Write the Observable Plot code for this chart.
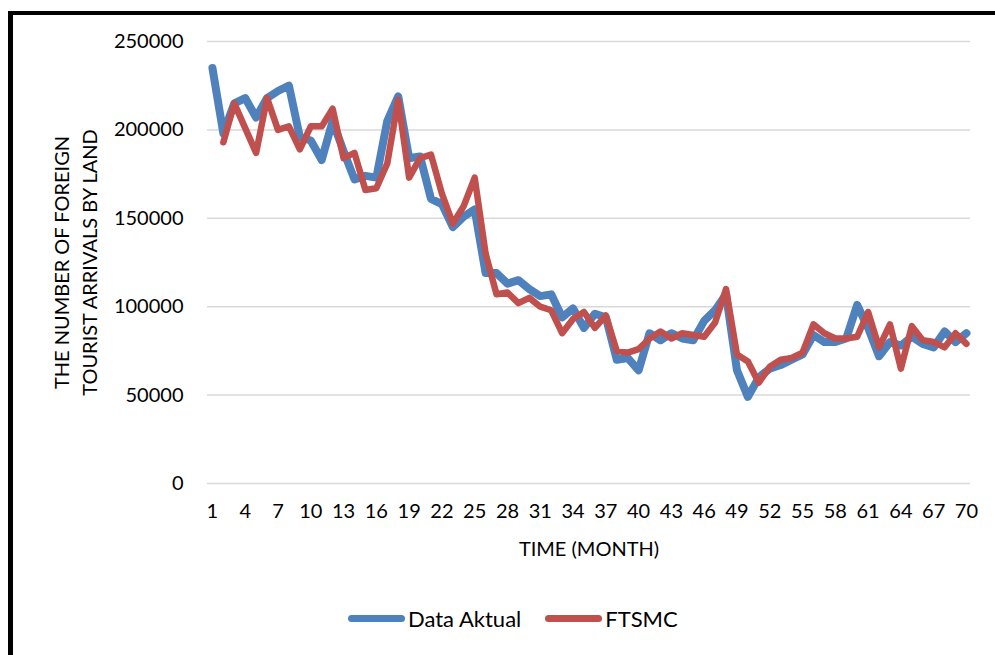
<!DOCTYPE html>
<html>
<head>
<meta charset="utf-8">
<script src="https://cdn.jsdelivr.net/npm/d3@7"></script>
<script src="https://cdn.jsdelivr.net/npm/@observablehq/plot@0.6"></script>
<style>
  html, body { margin: 0; padding: 0; background: #fff; }
  body { width: 995px; height: 655px; position: relative; overflow: hidden; font-family: Lato, "Open Sans", sans-serif; }
  #frame { position: absolute; left: 8px; top: 11px; width: 1100px; height: 800px; border-left: 5px solid #000; border-top: 4px solid #000; }
  #chart { position: absolute; left: 0; top: 0; }
  #legend { position: absolute; left: 348px; top: 605px; display: flex; align-items: center; font-size: 22px; color: #000; }
  .sw { width: 57px; height: 7px; border-radius: 4px; margin-right: 3px; }
  .item { display: flex; align-items: center; margin-right: 24px; }
</style>
</head>
<body>
<div id="frame"></div>
<div id="chart"></div>
<div id="legend"></div>
<script>
const months = d3.range(1, 71);
const seriesNames = ["Data Aktual", "FTSMC"];
const seriesColors = ["#4f81bd", "#c0504d"];
const actual = [235000,198000,215000,218000,207000,218000,222000,225000,196000,194000,
  183000,205000,188000,172000,174000,173000,205000,219000,184000,185000,
  161000,158000,145000,151000,155000,119000,119000,113000,115000,110000,
  106000,107000,94000,99000,88000,96000,94000,70000,71000,64000,
  85000,81000,85000,82000,81000,92000,98000,107000,64000,49000,
  60000,65000,67000,70000,73000,84000,80000,80000,82000,101000,
  88000,72000,80000,78000,83000,79000,77000,86000,80000,85000];
const ftsmc = [null,193000,215000,201000,187000,218000,200000,202000,189000,202000,
  202000,212000,184000,187000,166000,167000,181000,217000,173000,184000,
  186000,164000,147000,157000,173000,130000,107000,108000,102000,105000,
  100000,98000,85000,93000,97000,88000,95000,75000,74000,76000,
  82000,86000,82000,85000,84000,83000,91000,110000,73000,69000,
  57000,66000,70000,71000,74000,90000,85000,82000,82000,83000,
  97000,77000,90000,65000,89000,81000,80000,77000,85000,79000];
const yTicks = [0, 50000, 100000, 150000, 200000, 250000];
const xTicks = d3.range(1, 71, 3);
const yTitle = "THE NUMBER OF FOREIGN\nTOURIST ARRIVALS BY LAND";
const xTitle = "TIME (MONTH)";

const rowsA = months.map((m, i) => ({m, v: actual[i]}));
const rowsF = months.map((m, i) => ({m, v: ftsmc[i]}));

const chart = Plot.plot({
  width: 995,
  height: 575,
  marginLeft: 207,
  marginRight: 25,
  marginTop: 41,
  marginBottom: 92,
  style: {fontFamily: "Lato, 'Open Sans', sans-serif", fontSize: "20px", color: "#000", background: "transparent"},
  x: {domain: [0.55, 70.37], ticks: xTicks, tickSize: 0, tickPadding: 20, label: xTitle, labelAnchor: "center", labelOffset: 72, labelArrow: "none", tickFormat: d => String(d)},
  y: {domain: [0, 250000], ticks: yTicks, tickSize: 0, tickPadding: 24, label: null, tickFormat: d => String(d)},
  marks: [
    Plot.gridY(yTicks, {stroke: "#d9d9d9", strokeOpacity: 1, strokeWidth: 1.5}),
    Plot.lineY(rowsA, {x: "m", y: "v", stroke: seriesColors[0], strokeWidth: 8, strokeLinejoin: "round", strokeLinecap: "round"}),
    Plot.lineY(rowsF, {x: "m", y: "v", stroke: seriesColors[1], strokeWidth: 6.5, strokeLinejoin: "round", strokeLinecap: "round"}),
    Plot.text([yTitle], {frameAnchor: "left", textAnchor: "middle", dx: -133, rotate: -90, text: d => d, fontSize: 20, lineHeight: 1.4, fill: "#000"})
  ]
});
document.getElementById("chart").appendChild(chart);

const legend = document.getElementById("legend");
seriesNames.forEach((n, i) => {
  const it = document.createElement("div");
  it.className = "item";
  it.innerHTML = `<div class="sw" style="background:${seriesColors[i]}"></div><span>${n}</span>`;
  legend.appendChild(it);
});
</script>
</body>
</html>
